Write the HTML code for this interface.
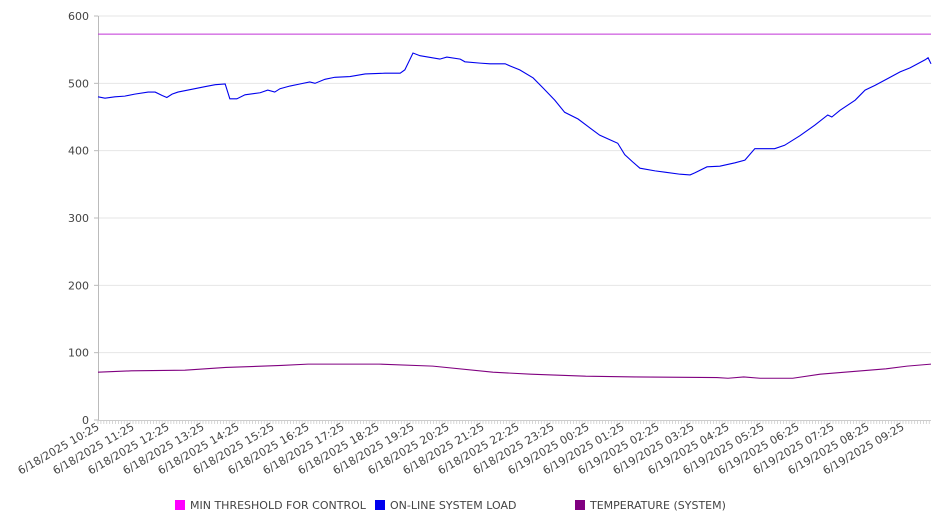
<!DOCTYPE html>
<html><head><meta charset="utf-8"><style>
html,body{margin:0;padding:0;background:#fff;}
svg{display:block;font-family:"DejaVu Sans","Liberation Sans",sans-serif;}
</style></head><body>
<svg id="chart" width="946" height="526" viewBox="0 0 946 526">
<g id="grid"></g>
<g id="yaxis"></g>
<g id="xaxis"></g>
<g id="series"></g>
<g id="legend"></g>
</svg>
<script>
const yTicks = [0,100,200,300,400,500,600];
const xTickLabels = ["6/18/2025 10:25","6/18/2025 11:25","6/18/2025 12:25","6/18/2025 13:25","6/18/2025 14:25","6/18/2025 15:25","6/18/2025 16:25","6/18/2025 17:25","6/18/2025 18:25","6/18/2025 19:25","6/18/2025 20:25","6/18/2025 21:25","6/18/2025 22:25","6/18/2025 23:25","6/19/2025 00:25","6/19/2025 01:25","6/19/2025 02:25","6/19/2025 03:25","6/19/2025 04:25","6/19/2025 05:25","6/19/2025 06:25","6/19/2025 07:25","6/19/2025 08:25","6/19/2025 09:25"];
const thresholdValue = 573;
const loadMinutes = [0,12,29,46,63,86,98,110,118,127,137,166,183,201,218,226,238,252,278,291,303,312,329,346,363,372,389,406,432,458,492,518,526,540,552,586,598,621,629,655,672,698,706,723,746,763,783,800,823,843,860,878,891,903,917,929,955,972,998,1015,1023,1044,1066,1092,1109,1126,1160,1177,1203,1229,1251,1258,1272,1298,1315,1332,1358,1375,1392,1418,1423,1428];
const loadValues = [480,478,480,481,484,487,487,482,479,484,487,492,495,498,499,477,477,483,486,490,487,492,496,499,502,500,506,509,510,514,515,515,520,545,541,536,539,536,532,530,529,529,526,520,508,493,475,457,447,434,423,416,411,394,383,374,370,368,365,364,367,376,377,382,386,403,403,408,422,438,453,450,460,475,490,497,509,517,523,535,538,529];
const tempMinutes = [0,57,149,219,314,360,482,574,677,742,836,920,1061,1080,1107,1135,1191,1238,1351,1387,1428];
const tempValues = [71,73,74,78,81,83,83,80,71,68,65,64,63,62,64,62,62,68,76,80,83];
const legendLabels = ["MIN THRESHOLD FOR CONTROL","ON-LINE SYSTEM LOAD","TEMPERATURE (SYSTEM)"];
const seriesColors = ["#ff00ff","#0000ee","#800080"];
const thresholdLineColor = "#c033d6";

const NS="http://www.w3.org/2000/svg";
const X0=98, X1=931, Y0=420, Y1=16, PXMIN=35/60, TMAX=(X1-X0)/PXMIN;
const xs = m => X0 + m*PXMIN;
const ys = v => Y0 - (v/600)*(Y0-Y1);
function mk(tag, parent, attrs){const e=document.createElementNS(NS,tag);for(const k in attrs)e.setAttribute(k,attrs[k]);parent.appendChild(e);return e;}
const grid=document.getElementById('grid'), yaxis=document.getElementById('yaxis'), xaxis=document.getElementById('xaxis'), series=document.getElementById('series'), legend=document.getElementById('legend');

yTicks.forEach(v=>{
  if(v>0){const g=mk('line',grid,{x1:X0,x2:X1,y1:ys(v),y2:ys(v),stroke:'#e6e6e6','stroke-width':1});
  
  }
  const t=mk('text',yaxis,{x:89,y:ys(v)+4,'text-anchor':'end','font-size':11,fill:'#444'});
  t.textContent=v;
  
  
  const tk=mk('line',yaxis,{x1:X0-4,x2:X0,y1:ys(v),y2:ys(v),stroke:'#bbb'});
  
  
});
const ax=mk('line',yaxis,{x1:X0+0.5,x2:X0+0.5,y1:Y1,y2:Y0,stroke:'#bbb'});


const bx=mk('line',xaxis,{x1:X0,x2:X1,y1:Y0+0.5,y2:Y0+0.5,stroke:'#ccc'});


for(let m=0;m<=TMAX;m+=5){
  const t=mk('line',xaxis,{x1:xs(m),x2:xs(m),y1:Y0,y2:Y0+4,stroke:'#ccc','stroke-width':0.8});
  
  
}
xTickLabels.forEach((lab,i)=>{
  const x=xs(i*60)+2, y=429;
  const t=mk('text',xaxis,{x:x,y:y,'text-anchor':'end','font-size':11,fill:'#444',transform:`rotate(-30 ${x} ${y})`});
  t.textContent=lab;
  
  
});

const th=mk('line',series,{x1:X0,x2:X1,y1:ys(thresholdValue),y2:ys(thresholdValue),stroke:thresholdLineColor,'stroke-width':1});


const lp=mk('polyline',series,{points:loadMinutes.map((m,i)=>xs(m)+','+ys(loadValues[i])).join(' '),fill:'none',stroke:seriesColors[1],'stroke-width':1.1});


const tp=mk('polyline',series,{points:tempMinutes.map((m,i)=>xs(m)+','+ys(tempValues[i])).join(' '),fill:'none',stroke:seriesColors[2],'stroke-width':1.1});



legendLabels.forEach((lab,i)=>{
  const g=mk('g',legend,{});
  
  
  mk('rect',g,{x:175+i*200,y:500,width:10,height:10,fill:seriesColors[i]});
  const t=mk('text',g,{x:190+i*200,y:509,'font-size':11,fill:'#444'});
  t.textContent=lab;
});
</script>
</body></html>
